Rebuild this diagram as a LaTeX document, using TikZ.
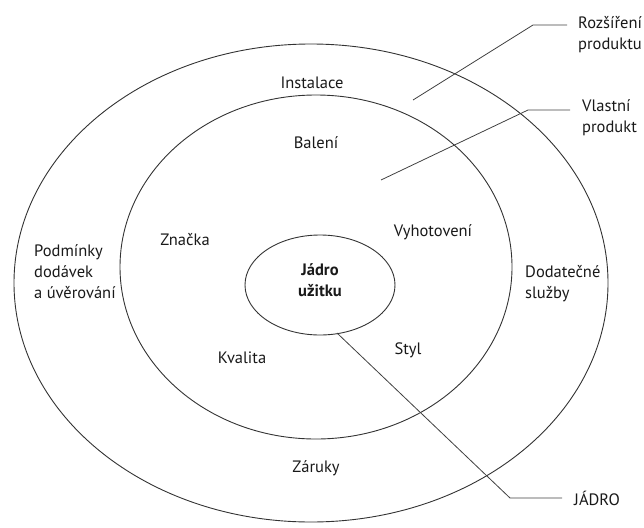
\documentclass[tikz,border=0pt]{standalone}
\usepackage{fontspec}
\setmainfont{PT Sans}
\begin{document}
\begin{tikzpicture}[x=1pt,y=-1pt,
  ring/.style={draw=black!80,line width=0.9pt},
  lead/.style={draw=black!75,line width=0.8pt},
  lbl/.style={font=\fontsize{16.5}{21}\selectfont,text=black!90,inner sep=0pt,align=center},
  lbll/.style={lbl,align=left,anchor=west}]
\useasboundingbox (0,0) rectangle (644,527);
\draw[ring] (311,283) ellipse [x radius=297,y radius=239];
\draw[ring] (316,267) ellipse [x radius=196,y radius=172];
\draw[ring] (320,285) ellipse [x radius=75,y radius=50];
% labels
\node[lbl] (inst) at (312,83) {Instalace};
\node[lbl] (bal) at (316,143) {Balení};
\node[lbl] (zn) at (185,240) {Značka};
\node[lbl] (vyh) at (433,232) {Vyhotovení};
\node[lbll] (podm) at (34,272) {Podmínky\\dodávek\\a úvěrování};
\node[lbll] (dod) at (525,284) {Dodatečné\\služby};
\node[lbl,font=\fontsize{16.5}{21}\selectfont\bfseries] (jad) at (320,280) {Jádro\\užitku};
\node[lbl] (kv) at (242,358) {Kvalita};
\node[lbl] (st) at (408,350) {Styl};
\node[lbl] (zar) at (316,468) {Záruky};
\node[lbll] (roz) at (578,35) {Rozšíření\\produktu};
\node[lbll] (vl) at (582,118) {Vlastní\\produkt};
\node[lbll] (jd) at (574,498) {JÁDRO};
% leaders
\coordinate (r1) at (413,100);
\coordinate (r2) at (533,25);
\coordinate (r3) at (567,25);
\coordinate (v1) at (381,180);
\coordinate (v2) at (528,110);
\coordinate (v3) at (570,110);
\coordinate (j1) at (337,333);
\coordinate (j2) at (510,498);
\coordinate (j3) at (562,498);
\draw[lead] (r1) -- (r2) -- (r3);
\draw[lead] (v1) -- (v2) -- (v3);
\draw[lead] (j1) -- (j2) -- (j3);
\end{tikzpicture}
\end{document}
